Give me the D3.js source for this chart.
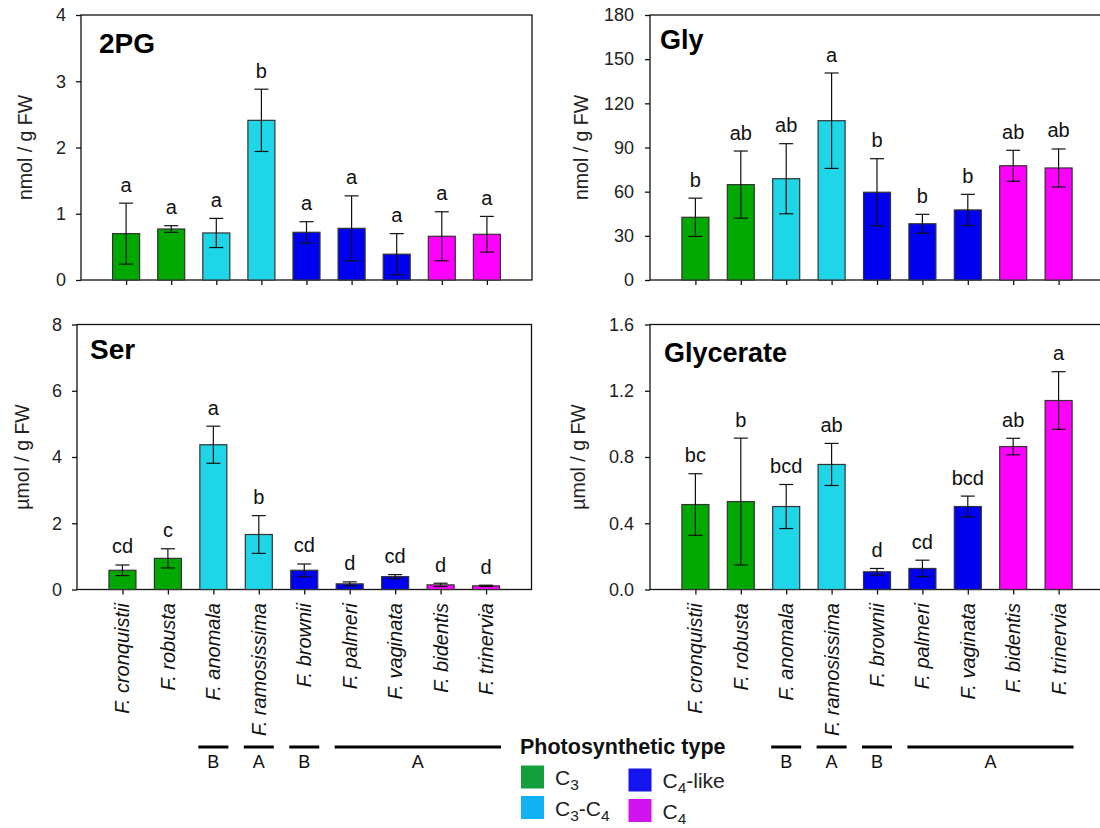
<!DOCTYPE html>
<html>
<head>
<meta charset="utf-8">
<script src="https://cdnjs.cloudflare.com/ajax/libs/d3/7.8.5/d3.min.js"></script>
<style>
  body { margin: 0; background: #fff; }
  svg { font-family: Arial, "Liberation Sans", sans-serif; }
</style>
</head>
<body>
<div id="chart"></div>
<script>
// Size constants
var totWidth = 1100,
    totHeight = 828;

// Data
var species = ["F. cronquistii", "F. robusta", "F. anomala", "F. ramosissima", "F. brownii",
               "F. palmeri", "F. vaginata", "F. bidentis", "F. trinervia"];
var speciesType = ["C3", "C3", "C3-C4", "C3-C4", "C4-like", "C4-like", "C4-like", "C4", "C4"];

var pgMean = [0.70, 0.77, 0.71, 2.41, 0.72, 0.78, 0.39, 0.66, 0.69];
var pgErr = [0.46, 0.05, 0.22, 0.47, 0.16, 0.49, 0.31, 0.37, 0.27];
var pgLetters = ["a", "a", "a", "b", "a", "a", "a", "a", "a"];
var pgTicks = [0, 1, 2, 3, 4];

var glyMean = [42.6, 64.8, 68.8, 108.2, 59.6, 38.2, 47.6, 77.6, 76.1];
var glyErr = [13.0, 22.8, 23.8, 32.4, 22.8, 6.4, 10.6, 10.5, 12.9];
var glyLetters = ["b", "ab", "ab", "a", "b", "b", "b", "ab", "ab"];
var glyTicks = [0, 30, 60, 90, 120, 150, 180];

var serMean = [0.58, 0.94, 4.37, 1.66, 0.58, 0.17, 0.39, 0.14, 0.11];
var serErr = [0.16, 0.29, 0.56, 0.57, 0.19, 0.06, 0.06, 0.05, 0.02];
var serLetters = ["cd", "c", "a", "b", "cd", "d", "cd", "d", "d"];
var serTicks = [0, 2, 4, 6, 8];

var glycMean = [0.513, 0.531, 0.501, 0.755, 0.107, 0.127, 0.501, 0.863, 1.141];
var glycErr = [0.186, 0.383, 0.133, 0.127, 0.020, 0.050, 0.063, 0.050, 0.174];
var glycLetters = ["bc", "b", "bcd", "ab", "d", "cd", "bcd", "ab", "a"];
var glycTicks = [0, 0.4, 0.8, 1.2, 1.6];

// groups under the x labels (first, last species index)
var groupLabels = ["B", "A", "B", "A"];
var groupFrom = [2, 3, 4, 5];
var groupTo = [2, 3, 4, 8];

var legendTypes = ["C3", "C3-C4", "C4-like", "C4"];

// colours
var barColor = {"C3": "#00a800", "C3-C4": "#1ed6e8", "C4-like": "#0000f0", "C4": "#ff00ff"};
var legendColor = {"C3": "#159e3c", "C3-C4": "#12b2f2", "C4-like": "#1414f0", "C4": "#d012ee"};

var svg = d3.select("#chart")
  .append("svg")
    .attr("width", totWidth)
    .attr("height", totHeight);

function buildPanel(p) {
  var g = svg.append("g");

  var x = d3.scalePoint()
    .domain(species)
    .range([p.left, p.left + p.width])
    .padding(1);
  var y = d3.scaleLinear()
    .domain([0, p.ticks[p.ticks.length - 1]])
    .range([p.bottom, p.top]);

  // frame
  g.append("rect")
    .attr("x", p.left)
    .attr("y", p.top)
    .attr("width", p.width)
    .attr("height", p.bottom - p.top)
    .attr("fill", "none")
    .attr("stroke", "#111")
    .attr("stroke-width", 1.3);

  // Y axis
  var yAxis = g.append("g")
    .attr("transform", "translate(" + p.left + ",0)")
    .call(d3.axisLeft(y)
      .tickValues(p.ticks)
      .tickSize(5)
      .tickSizeOuter(0)
      .tickPadding(p.tickPad)
      .tickFormat(p.fmt));
  yAxis.select(".domain").remove();
  yAxis.selectAll("text")
    .attr("font-size", "18px")
    .attr("font-family", "Arial, 'Liberation Sans', sans-serif")
    .attr("fill", "#222");
  yAxis.selectAll(".tick line").attr("stroke", "#111").attr("stroke-width", 1.3);

  // X axis ticks
  var xAxis = g.append("g")
    .attr("transform", "translate(0," + p.bottom + ")")
    .call(d3.axisBottom(x).tickSize(5).tickSizeOuter(0).tickFormat(""));
  xAxis.select(".domain").remove();
  xAxis.selectAll(".tick line").attr("stroke", "#111").attr("stroke-width", 1.3);

  // bars
  var bw = 27;
  g.selectAll(".bar")
    .data(species)
    .enter()
    .append("rect")
      .attr("x", function(d) { return x(d) - bw / 2; })
      .attr("y", function(d, i) { return y(p.mean[i]); })
      .attr("width", bw)
      .attr("height", function(d, i) { return p.bottom - y(p.mean[i]); })
      .attr("fill", function(d, i) { return barColor[speciesType[i]]; })
      .attr("stroke", "#333")
      .attr("stroke-width", 1.2);

  // error bars
  var cap = 7;
  species.forEach(function(d, i) {
    var cx = x(d),
        hi = y(p.mean[i] + p.err[i]),
        lo = y(Math.max(0, p.mean[i] - p.err[i]));
    g.append("line").attr("x1", cx).attr("x2", cx).attr("y1", hi).attr("y2", lo)
      .attr("stroke", "#111").attr("stroke-width", 1.2);
    g.append("line").attr("x1", cx - cap).attr("x2", cx + cap).attr("y1", hi).attr("y2", hi)
      .attr("stroke", "#111").attr("stroke-width", 1.2);
    g.append("line").attr("x1", cx - cap).attr("x2", cx + cap).attr("y1", lo).attr("y2", lo)
      .attr("stroke", "#111").attr("stroke-width", 1.2);
  });

  // significance letters
  g.selectAll(".letter")
    .data(species)
    .enter()
    .append("text")
      .attr("x", function(d) { return x(d); })
      .attr("y", function(d, i) { return y(p.mean[i] + p.err[i]) - 11.5; })
      .attr("text-anchor", "middle")
      .attr("font-size", "20px")
      .attr("fill", "#111")
      .text(function(d, i) { return p.letters[i]; });

  // panel title
  g.append("text")
    .attr("x", p.titleX)
    .attr("y", p.titleY)
    .attr("font-size", p.titleSize)
    .attr("font-weight", "bold")
    .attr("fill", "#000")
    .text(p.title);

  // Y axis label
  g.append("text")
    .attr("transform", "translate(" + p.labelX + "," + ((p.top + p.bottom) / 2) + ") rotate(-90)")
    .attr("text-anchor", "middle")
    .attr("dy", "0.35em")
    .attr("font-size", "19.5px")
    .attr("fill", "#222")
    .text(p.ylabel);

  // species labels for the bottom row
  if (p.showNames) {
    g.selectAll(".name")
      .data(species)
      .enter()
      .append("text")
        .attr("transform", function(d) {
          return "translate(" + x(d) + "," + (p.bottom + 13.5) + ") rotate(-90)";
        })
        .attr("text-anchor", "end")
        .attr("dy", "0.35em")
        .attr("font-size", "20px")
        .attr("font-style", "italic")
        .attr("fill", "#111")
        .text(function(d) { return d; });

    // group bars and labels
    groupLabels.forEach(function(lab, k) {
      var x0 = x(species[groupFrom[k]]) - 15,
          x1 = x(species[groupTo[k]]) + 15;
      g.append("line")
        .attr("x1", x0).attr("x2", x1)
        .attr("y1", 747).attr("y2", 747)
        .attr("stroke", "#000").attr("stroke-width", 3);
      g.append("text")
        .attr("x", (x0 + x1) / 2)
        .attr("y", 768)
        .attr("text-anchor", "middle")
        .attr("font-size", "18px")
        .attr("fill", "#111")
        .text(lab);
    });
  }
}

buildPanel({mean: pgMean, err: pgErr, letters: pgLetters, ticks: pgTicks, fmt: d3.format("d"),
  left: 81, width: 451, top: 15, bottom: 280, tickPad: 10,
  title: "2PG", titleX: 99, titleY: 53, titleSize: "28px",
  ylabel: "nmol / g FW", labelX: 25, showNames: false});

buildPanel({mean: glyMean, err: glyErr, letters: glyLetters, ticks: glyTicks, fmt: d3.format("d"),
  left: 650, width: 454, top: 15, bottom: 280, tickPad: 11,
  title: "Gly", titleX: 660, titleY: 49, titleSize: "27px",
  ylabel: "nmol / g FW", labelX: 581, showNames: false});

buildPanel({mean: serMean, err: serErr, letters: serLetters, ticks: serTicks, fmt: d3.format("d"),
  left: 77, width: 454.5, top: 324.5, bottom: 589.5, tickPad: 10,
  title: "Ser", titleX: 90, titleY: 359, titleSize: "28px",
  ylabel: "\u00b5mol / g FW", labelX: 22, showNames: true});

buildPanel({mean: glycMean, err: glycErr, letters: glycLetters, ticks: glycTicks, fmt: d3.format(".1f"),
  left: 650, width: 454, top: 324.5, bottom: 589.5, tickPad: 11,
  title: "Glycerate", titleX: 664, titleY: 362, titleSize: "27px",
  ylabel: "\u00b5mol / g FW", labelX: 578, showNames: true});

// Legend
var legend = svg.append("g");
legend.append("text")
  .attr("x", 520)
  .attr("y", 753.5)
  .attr("font-size", "21.5px")
  .attr("font-weight", "bold")
  .attr("fill", "#111")
  .text("Photosynthetic type");

var legX = [521, 521, 628.5, 628.5],
    legY = [765.5, 796, 768.5, 799];
var legSub = {
  "C3": [["C", ""], ["3", "sub"]],
  "C3-C4": [["C", ""], ["3", "sub"], ["-C", ""], ["4", "sub"]],
  "C4-like": [["C", ""], ["4", "sub"], ["-like", ""]],
  "C4": [["C", ""], ["4", "sub"]]
};
legendTypes.forEach(function(t, i) {
  legend.append("rect")
    .attr("x", legX[i])
    .attr("y", legY[i])
    .attr("width", 23)
    .attr("height", 23)
    .attr("fill", legendColor[t]);
  var txt = legend.append("text")
    .attr("x", legX[i] + 34)
    .attr("y", legY[i] + 19.5)
    .attr("font-size", "21px")
    .attr("fill", "#222");
  var shifted = false;
  legSub[t].forEach(function(part) {
    var span = txt.append("tspan").text(part[0]);
    if (part[1] === "sub") {
      span.attr("font-size", "15.5px").attr("dy", 5);
      shifted = true;
    } else if (shifted) {
      span.attr("dy", -5);
      shifted = false;
    }
  });
});
</script>
</body>
</html>
